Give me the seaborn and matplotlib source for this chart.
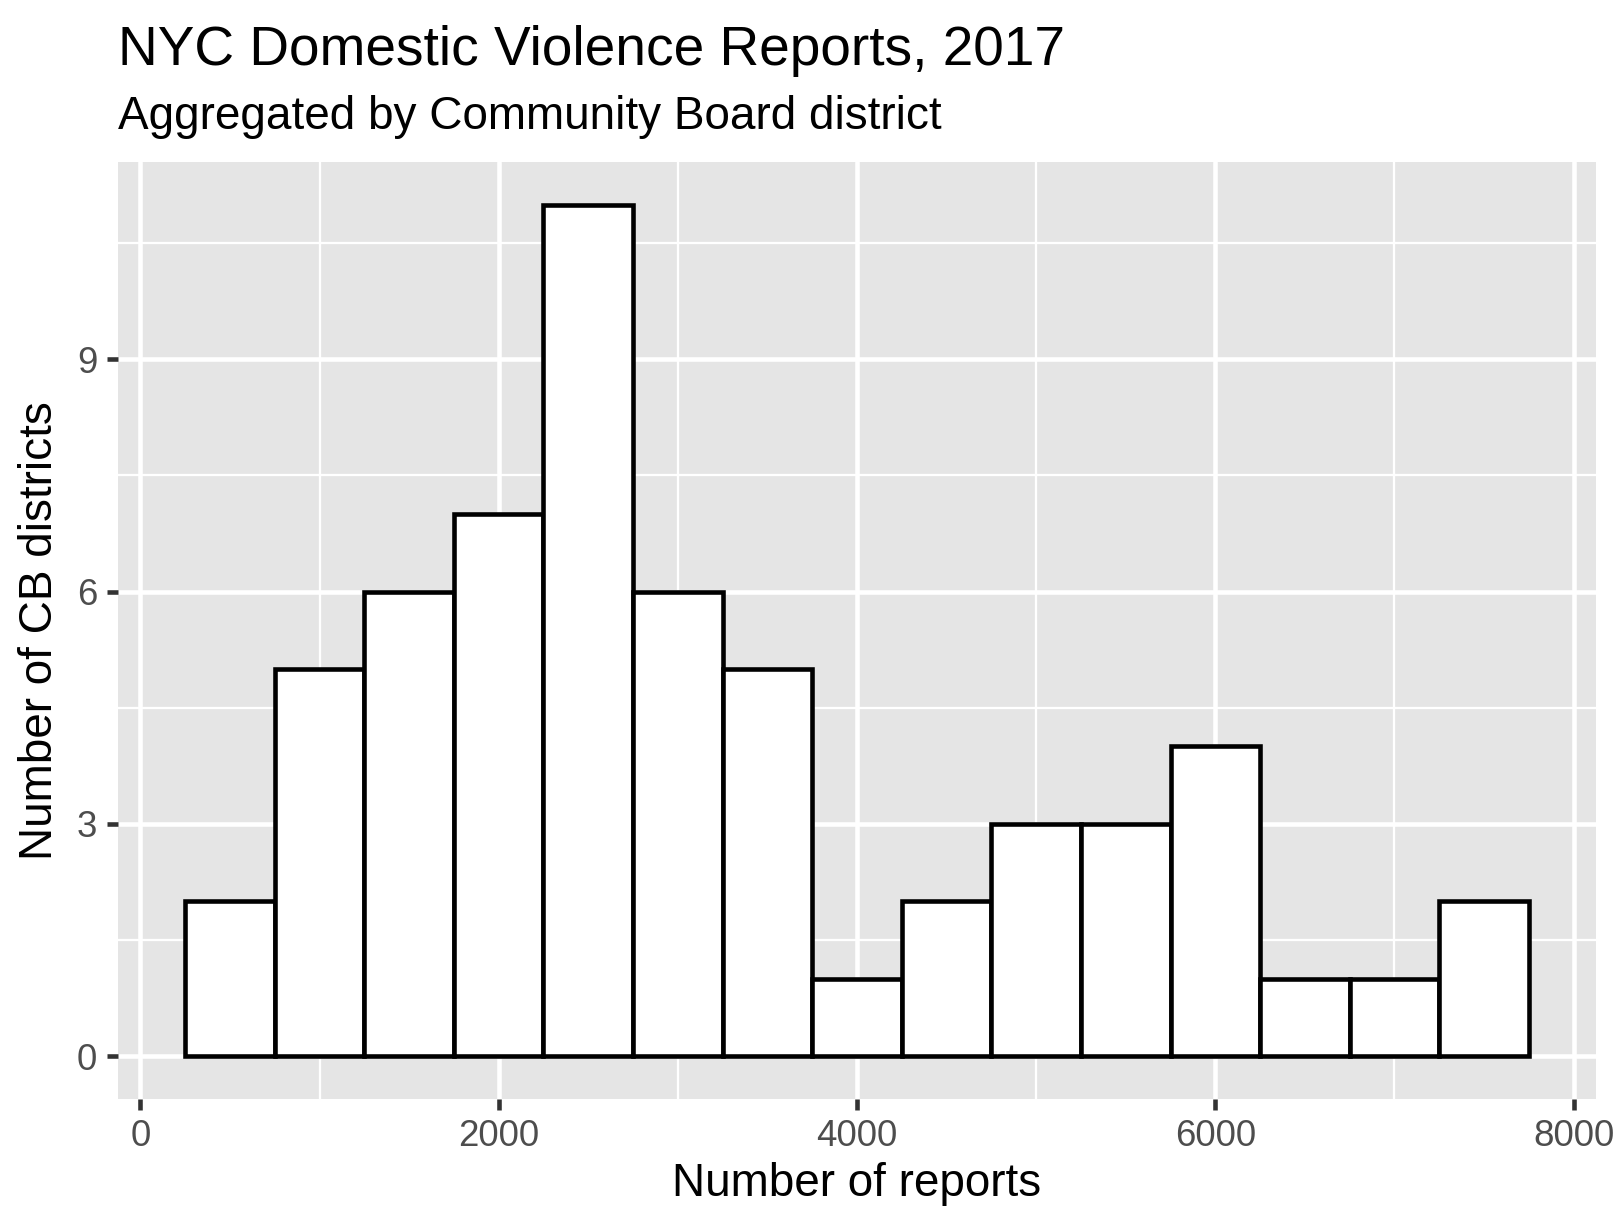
import numpy as np
import matplotlib
matplotlib.use("Agg")
import matplotlib.pyplot as plt
import seaborn as sns

# Data: histogram bins (centers, width 500) and counts of CB districts
bin_centers = [500, 1000, 1500, 2000, 2500, 3000, 3500, 4000, 4500, 5000, 5500, 6000, 6500, 7000, 7500]
counts = [2, 5, 6, 7, 11, 6, 5, 1, 2, 3, 3, 4, 1, 1, 2]
x_ticks = [0, 2000, 4000, 6000, 8000]
y_ticks = [0, 3, 6, 9]
title = "NYC Domestic Violence Reports, 2017"
subtitle = "Aggregated by Community Board district"
xlabel = "Number of reports"
ylabel = "Number of CB districts"

binwidth = 500
edges = [c - binwidth / 2 for c in bin_centers] + [bin_centers[-1] + binwidth / 2]

sns.set_theme(style="white")
plt.rcParams['font.family'] = ['Liberation Sans', 'DejaVu Sans']

W, H, DPI = 1620, 1229, 300
fig = plt.figure(figsize=(W / DPI, H / DPI), dpi=DPI)
left, right, top, bottom = 118, 1596, 162, 1098.6
ax = fig.add_axes([left / W, 1 - bottom / H, (right - left) / W, (bottom - top) / H])
ax.set_facecolor('#E5E5E5')

sns.histplot(x=bin_centers, weights=counts, bins=edges, color='white', edgecolor='black',
             linewidth=1.1, alpha=1, ax=ax, zorder=3)

xr = edges[-1] - edges[0]
ax.set_xlim(edges[0] - 0.05 * xr, edges[-1] + 0.05 * xr)
ymax = max(counts)
ax.set_ylim(-0.05 * ymax, ymax * 1.05)

ax.set_xticks(x_ticks)
ax.set_yticks(y_ticks)
ax.set_xticks([(a + b) / 2 for a, b in zip(x_ticks[:-1], x_ticks[1:])], minor=True)
ax.set_yticks([(a + b) / 2 for a, b in zip(y_ticks, y_ticks[1:] + [y_ticks[-1] + 3])], minor=True)
ax.set_xticklabels([str(v) for v in x_ticks])
ax.set_yticklabels([str(v) for v in y_ticks])

ax.grid(which='major', color='white', linewidth=1.1, zorder=0)
ax.grid(which='minor', color='white', linewidth=0.55, zorder=0)
ax.set_axisbelow(True)
for s in ax.spines.values():
    s.set_visible(False)

ax.tick_params(which='major', length=2.75, width=1.1, color='#333333', labelsize=8.8,
               labelcolor='#4D4D4D', pad=2.2, left=True, bottom=True)
ax.tick_params(which='minor', length=0)
ax.set_xlabel('')
ax.set_ylabel('')

# Titles and axis labels (ggplot-like placement)
fig.text(left / W, 1 - 65 / H, title, fontsize=13.2, color='black', ha='left', va='baseline')
fig.text(left / W, 1 - 129 / H, subtitle, fontsize=11, color='black', ha='left', va='baseline')
fig.text((left + right) / 2 / W, 1 - 1196 / H, xlabel, fontsize=11, color='black', ha='center', va='baseline')
fig.text(40 / W, 1 - (top + bottom) / 2 / H, ylabel, fontsize=11, color='black', ha='center',
         va='center', rotation=90)

fig.savefig('out.png', dpi=DPI, facecolor='white')
